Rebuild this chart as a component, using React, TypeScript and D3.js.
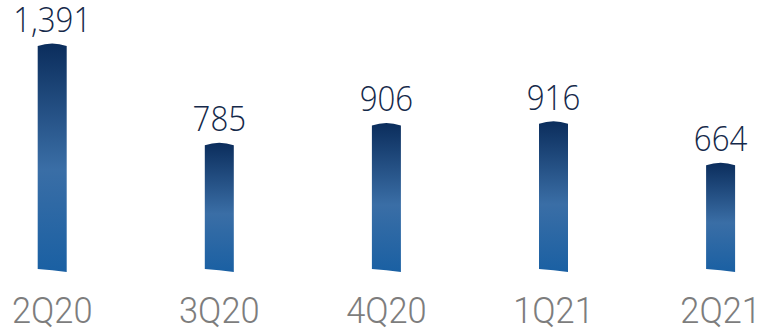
import React from "react";
import * as d3 from "d3";

const categories = ["2Q20", "3Q20", "4Q20", "1Q21", "2Q21"];
const values = [1391, 785, 906, 916, 664];
const valueLabels = ["1,391", "785", "906", "916", "664"];

const W = 757;
const H = 331;

export default function App() {
  const x = d3.scalePoint<string>().domain(categories).range([52.2, 720.6]);
  const y = d3.scaleLinear().domain([0, 1391]).range([272, 44]);
  const bw = 29;
  return (
    <svg width={W} height={H} style={{ position: "absolute", left: 0, top: 0 }}>
      <defs>
        <linearGradient id="barGrad" x1="0" y1="0" x2="0" y2="1">
          <stop offset="0" stopColor="#0b2d5c" />
          <stop offset="0.55" stopColor="#3a6ea6" />
          <stop offset="1" stopColor="#1a60a3" />
        </linearGradient>
      </defs>
      {categories.map((c, i) => {
        const cx = x(c) as number;
        const x0 = cx - bw / 2;
        const top = y(values[i]);
        const bottom = y(0);
        const d = `M${x0},${top + 2} Q${cx},${top - 3} ${x0 + bw},${top + 2} L${x0 + bw},${bottom} Q${cx},${bottom - 2} ${x0},${bottom - 3} Z`;
        return (
          <g key={c}>
            <path d={d} fill="url(#barGrad)" />
            <text transform={`translate(${cx},${top - 12}) scale(0.92,1)`} textAnchor="middle" fontFamily="Open Sans" fontWeight={300} fontSize={34} fill="#15294a">
              {valueLabels[i]}
            </text>
            <text transform={`translate(${cx},323) scale(0.93,1)`} textAnchor="middle" fontFamily="Roboto" fontWeight={300} fontSize={37} fill="#7d7d7d">
              {c}
            </text>
          </g>
        );
      })}
    </svg>
  );
}
